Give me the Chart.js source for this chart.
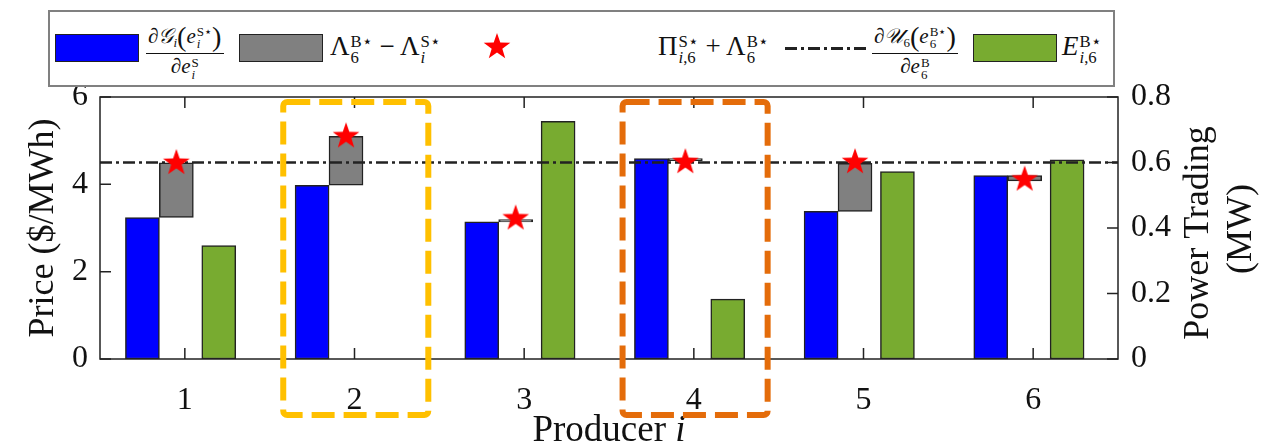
<!DOCTYPE html>
<html>
<head>
<meta charset="utf-8">
<script src="https://cdn.jsdelivr.net/npm/chart.js@4.4.1/dist/chart.umd.min.js"></script>
<style>
body{margin:0;background:#fff;}
#wrap{position:relative;width:1268px;height:445px;overflow:hidden;}
#c{position:absolute;left:0;top:0;}
#legend{position:absolute;left:48px;top:10px;width:1063px;height:73px;border:2px solid #808080;background:#fff;}
.sw{position:absolute;top:34px;width:82px;height:26px;border:1.5px solid #222;}
.t{position:absolute;font-family:'Liberation Serif','Times New Roman',serif;color:#111;white-space:nowrap;line-height:1;}
.ss{display:inline-block;vertical-align:-0.45em;font-size:0.62em;line-height:0.95;text-align:left;margin-left:1px;}
.ss>span{display:block;}
.frac{display:inline-flex;flex-direction:column;align-items:center;font-size:21px;}
.frac .num{border-bottom:1.5px solid #111;padding:0 2px 2px;}
.frac .den{padding-top:2px;}
.big{font-size:1.35em;vertical-align:-0.12em;}
sub{font-size:0.62em;vertical-align:-0.35em;}
</style>
</head>
<body>
<div id="wrap">
  <canvas id="c" width="1268" height="445"></canvas>
  <div id="legend"></div>
  <div class="sw" style="left:55px;background:#0000ff"></div>
  <div class="t" style="left:146px;top:23px"><span class="frac"><span class="num">∂<i>𝒢</i><sub><i>i</i></sub><span class="big">(</span><i>e</i><span class="ss"><span>S⋆</span><span><i>i</i></span></span><span class="big">)</span></span><span class="den">∂<i>e</i><span class="ss"><span>S</span><span><i>i</i></span></span></span></span></div>
  <div class="sw" style="left:239px;background:#808080"></div>
  <div class="t" style="left:330px;top:33px;font-size:27px">Λ<span class="ss"><span>B⋆</span><span>6</span></span> − Λ<span class="ss"><span>S⋆</span><span><i>i</i></span></span></div>
  <svg style="position:absolute;left:483px;top:33px" width="28" height="28" viewBox="-14 -14 28 28"><polygon id="lstar" fill="#ff0000"/></svg>
  <div class="t" style="left:658px;top:33px;font-size:27px">Π<span class="ss"><span>S⋆</span><span><i>i</i>,6</span></span> + Λ<span class="ss"><span>B⋆</span><span>6</span></span></div>
  <svg style="position:absolute;left:785px;top:46px" width="84" height="5"><line x1="0" y1="2.5" x2="84" y2="2.5" stroke="#222" stroke-width="3" stroke-dasharray="12 4 3 4"/></svg>
  <div class="t" style="left:872px;top:23px"><span class="frac"><span class="num">∂<i>𝒰</i><sub>6</sub><span class="big">(</span><i>e</i><span class="ss"><span>B⋆</span><span>6</span></span><span class="big">)</span></span><span class="den">∂<i>e</i><span class="ss"><span>B</span><span>6</span></span></span></span></div>
  <div class="sw" style="left:973px;background:#78ab30"></div>
  <div class="t" style="left:1062px;top:33px;font-size:27px"><i>E</i><span class="ss"><span>B⋆</span><span><i>i</i>,6</span></span></div>
</div>
<script>
// ---- data ----
const categories = ['1', '2', '3', '4', '5', '6'];
const marginalCost = [3.24, 3.98, 3.14, 4.59, 3.38, 4.20];    // ∂G_i(e_i^S*)/∂e_i^S  (blue, $/MWh)
const lambdaGap = [1.25, 1.12, 0.05, -0.05, 1.10, -0.12];      // Λ_6^B* − Λ_i^S*  (gray, stacked on blue)
const sellerPrice = [4.49, 5.10, 3.22, 4.51, 4.51, 4.11];      // Π_{i,6}^S* + Λ_6^B*  (stars)
const buyerMarginal = [4.5];                                   // ∂U_6(e_6^B*)/∂e_6^B  (dash-dot line)
const powerTrading = [0.346, 0, 0.726, 0.183, 0.572, 0.608];   // E_{i,6}^B*  (green, MW, right axis)
const priceTicks = [0, 2, 4, 6];
const powerTicks = [0, 0.2, 0.4, 0.6, 0.8];
const highlighted = [{ cat: '2', color: '#ffc000' }, { cat: '4', color: '#e46c0a' }];

// ---- styling / placement constants ----
const FONT = "'Liberation Serif', 'Times New Roman', serif";
const OFF_BLUE = -0.25, OFF_GRAY = -0.05, OFF_GREEN = 0.2;

function starPoints(R, r) {
  const pts = [];
  for (let k = 0; k < 10; k++) {
    const rad = k % 2 === 0 ? R : r;
    const a = -Math.PI / 2 + k * Math.PI / 5;
    pts.push([rad * Math.cos(a), rad * Math.sin(a)]);
  }
  return pts;
}
document.getElementById('lstar').setAttribute('points', starPoints(14, 5.6).map(p => p.join(',')).join(' '));

const starImg = document.createElement('canvas');
starImg.width = 30; starImg.height = 30;
(function () {
  const g = starImg.getContext('2d');
  g.translate(15, 15);
  g.beginPath();
  starPoints(14, 5.6).forEach((p, k) => k ? g.lineTo(p[0], p[1]) : g.moveTo(p[0], p[1]));
  g.closePath();
  g.fillStyle = '#ff0000';
  g.fill();
})();

const pos = (i, off) => i + 1 + off;

const framePlugin = {
  id: 'frame',
  afterDatasetsDraw(chart) {
    const { ctx, chartArea: a, scales } = chart;
    ctx.save();
    ctx.strokeStyle = '#222';
    ctx.lineWidth = 1.5;
    ctx.strokeRect(a.left, a.top, a.right - a.left, a.bottom - a.top);
    const TL = 11;
    ctx.beginPath();
    scales.x.ticks.forEach(t => {
      const px = scales.x.getPixelForValue(t.value);
      ctx.moveTo(px, a.bottom); ctx.lineTo(px, a.bottom - TL);
      ctx.moveTo(px, a.top); ctx.lineTo(px, a.top + TL);
    });
    scales.y.ticks.forEach(t => {
      const py = scales.y.getPixelForValue(t.value);
      ctx.moveTo(a.left, py); ctx.lineTo(a.left + TL, py);
    });
    scales.y1.ticks.forEach(t => {
      const py = scales.y1.getPixelForValue(t.value);
      ctx.moveTo(a.right, py); ctx.lineTo(a.right - TL, py);
    });
    ctx.stroke();
    ctx.restore();
  },
  afterDraw(chart) {
    const { ctx, chartArea: a, scales } = chart;
    const midY = (a.top + a.bottom) / 2;
    ctx.save();
    ctx.fillStyle = '#111';
    ctx.textAlign = 'center';
    ctx.textBaseline = 'alphabetic';
    ctx.font = `36px ${FONT}`;
    ctx.save(); ctx.translate(53, midY); ctx.rotate(-Math.PI / 2); ctx.fillText('Price ($/MWh)', 0, 0); ctx.restore();
    ctx.save(); ctx.translate(1208, midY + 5); ctx.rotate(-Math.PI / 2); ctx.fillText('Power Trading', 0, 0); ctx.restore();
    ctx.save(); ctx.translate(1251, midY + 1); ctx.rotate(-Math.PI / 2); ctx.fillText('(MW)', 0, 0); ctx.restore();
    ctx.font = `37px ${FONT}`;
    const w1 = ctx.measureText('Producer ').width;
    ctx.font = `italic 37px ${FONT}`;
    const w2 = ctx.measureText('i').width;
    const cx = (a.left + a.right) / 2;
    ctx.textAlign = 'left';
    ctx.font = `37px ${FONT}`;
    ctx.fillText('Producer ', cx - (w1 + w2) / 2, 441);
    ctx.font = `italic 37px ${FONT}`;
    ctx.fillText('i', cx - (w1 + w2) / 2 + w1, 441);
    ctx.lineWidth = 6;
    ctx.setLineDash([23, 9]);
    highlighted.forEach(h => {
      const v = categories.indexOf(h.cat) + 1;
      const x0 = scales.x.getPixelForValue(v - 0.42);
      const x1 = scales.x.getPixelForValue(v + 0.435);
      const y0 = a.top + 5, y1 = a.bottom + 56;
      ctx.strokeStyle = h.color;
      ctx.beginPath();
      ctx.roundRect(x0, y0, x1 - x0, y1 - y0, 4);
      ctx.stroke();
    });
    ctx.restore();
  }
};

const barCommon = { barThickness: 34, grouped: false, borderWidth: 1.5, borderColor: '#222', borderSkipped: false, order: 3 };

new Chart(document.getElementById('c'), {
  type: 'bar',
  data: {
    datasets: [
      Object.assign({ label: 'marginal cost', backgroundColor: '#0000ff', yAxisID: 'y',
        data: marginalCost.map((v, i) => ({ x: pos(i, OFF_BLUE), y: v })) }, barCommon),
      Object.assign({ label: 'lambda gap', backgroundColor: '#808080', yAxisID: 'y',
        data: marginalCost.map((v, i) => ({ x: pos(i, OFF_GRAY), y: [v, v + lambdaGap[i]] })) }, barCommon),
      Object.assign({ label: 'power trading', backgroundColor: '#78ab30', yAxisID: 'y1',
        data: powerTrading.map((v, i) => ({ x: pos(i, OFF_GREEN), y: v })) }, barCommon),
      { type: 'line', label: 'buyer marginal', yAxisID: 'y', order: 2,
        data: [{ x: 0.5, y: buyerMarginal[0] }, { x: categories.length + 0.5, y: buyerMarginal[0] }],
        borderColor: '#222', borderWidth: 2.6, borderDash: [12, 4, 3, 4], pointRadius: 0, fill: false },
      { type: 'line', label: 'seller price', yAxisID: 'y', order: 1, showLine: false,
        data: sellerPrice.map((v, i) => ({ x: pos(i, OFF_GRAY), y: v })),
        pointStyle: starImg, pointRadius: 14 }
    ]
  },
  options: {
    responsive: false,
    animation: false,
    layout: { padding: { top: 97, left: 0, right: 0, bottom: 0 } },
    plugins: { legend: { display: false }, tooltip: { enabled: false } },
    scales: {
      x: {
        type: 'linear', position: 'bottom', min: 0.5, max: categories.length + 0.5, offset: false,
        grid: { display: false, drawTicks: false }, border: { display: false },
        afterBuildTicks: s => { s.ticks = categories.map((c, i) => ({ value: i + 1 })); },
        ticks: { callback: v => categories[v - 1], font: { family: FONT, size: 32 }, color: '#111', padding: 22, maxRotation: 0 },
        afterFit: s => { s.height = 86; }
      },
      y: {
        position: 'left', min: priceTicks[0], max: priceTicks[priceTicks.length - 1],
        grid: { display: false, drawTicks: false }, border: { display: false },
        afterBuildTicks: s => { s.ticks = priceTicks.map(v => ({ value: v })); },
        ticks: { font: { family: FONT, size: 32 }, color: '#111', padding: 12 },
        afterFit: s => { s.width = 100; }
      },
      y1: {
        position: 'right', min: powerTicks[0], max: powerTicks[powerTicks.length - 1],
        grid: { display: false, drawTicks: false }, border: { display: false },
        afterBuildTicks: s => { s.ticks = powerTicks.map(v => ({ value: v })); },
        ticks: { callback: v => v === 0 ? '0' : v.toFixed(1), font: { family: FONT, size: 32 }, color: '#111', padding: 13 },
        afterFit: s => { s.width = 150; }
      }
    }
  },
  plugins: [framePlugin]
});
</script>
</body>
</html>
